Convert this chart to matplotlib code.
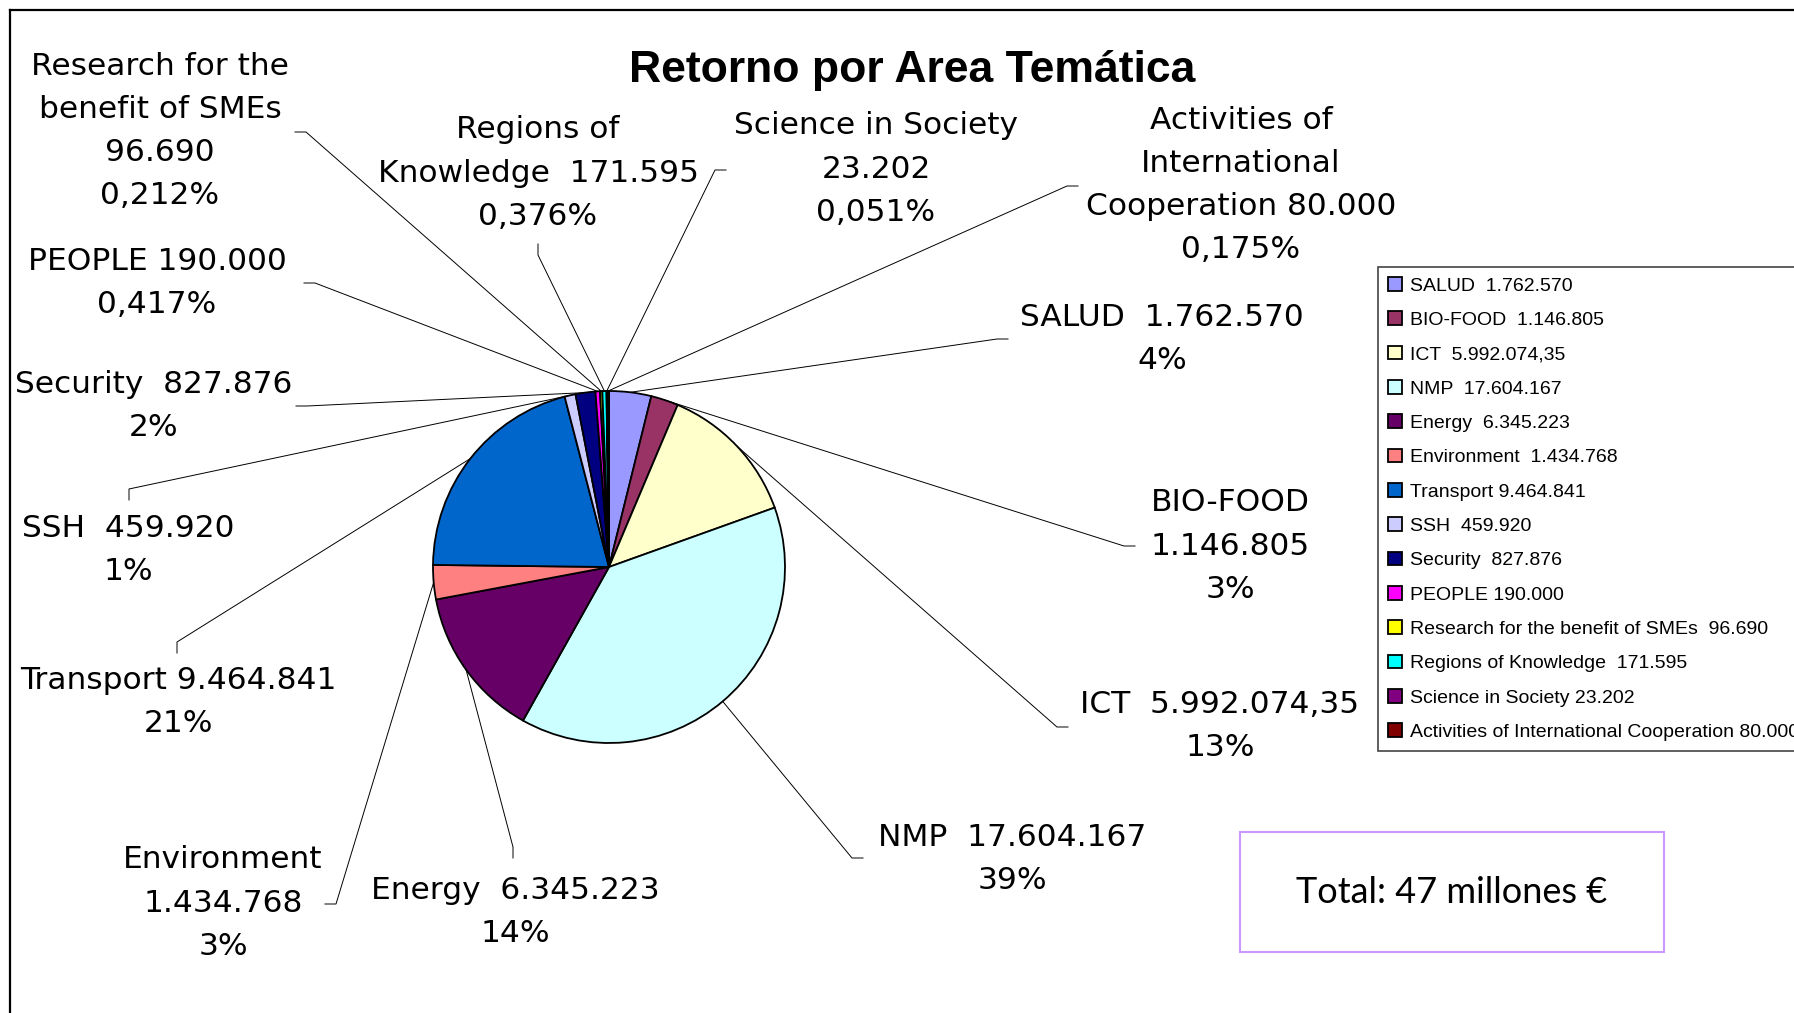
import matplotlib
matplotlib.use('Agg')
import matplotlib.pyplot as plt
from matplotlib.patches import Rectangle
import numpy as np

# values
names = ['SALUD', 'BIO-FOOD', 'ICT', 'NMP', 'Energy', 'Environment', 'Transport',
         'SSH', 'Security', 'PEOPLE', 'Research for the benefit of SMEs',
         'Regions of Knowledge', 'Science in Society',
         'Activities of International Cooperation']
amounts = [1762570, 1146805, 5992074.35, 17604167, 6345223, 1434768, 9464841,
           459920, 827876, 190000, 96690, 171595, 23202, 80000]
colors = ['#9999FF', '#993366', '#FFFFCC', '#CCFFFF', '#660066', '#FF8080', '#0066CC',
          '#CCCCFF', '#000080', '#FF00FF', '#FFFF00', '#00FFFF', '#800080', '#800000']
title = 'Retorno por Area Temática'
total_text = 'Total: 47 millones €'

# how each name is written next to the pie (line breaks, gap before the amount)
label_names = ['SALUD', 'BIO-FOOD', 'ICT', 'NMP', 'Energy', 'Environment', 'Transport',
               'SSH', 'Security', 'PEOPLE', 'Research for the\nbenefit of SMEs',
               'Regions of\nKnowledge', 'Science in Society',
               'Activities of\nInternational\nCooperation']
label_seps = ['  ', '\n', '  ', '  ', '  ', '\n', ' ', '  ', '  ', ' ', '\n', '  ', '\n', ' ']
legend_seps = ['  ', '  ', '  ', '  ', '  ', '  ', ' ', '  ', '  ', ' ', '  ', '  ', ' ', ' ']

# layout in pixels, measured from the top-left corner
W, H = 1794, 1013
label_pos = [(1162, 339), (1230, 546), (1220, 726), (1012, 859), (515, 912), (223, 903),
             (178, 702), (128, 550), (154, 406), (157, 283), (160, 131), (538, 173),
             (876, 169), (1241, 185)]
elbows = [(997, 339), (1124, 546), (1057, 727), (852, 858), (513, 847), (336, 904),
          (177, 642), (129, 489), (307, 406), (315, 283), (306, 132), (538, 255),
          (715, 170), (1067, 186)]
tick_dirs = ['r', 'r', 'r', 'r', 'd', 'l', 'd', 'd', 'l', 'l', 'l', 'u', 'r', 'r']


def fmt_amount(v):
    whole = int(v)
    s = f'{whole:,}'.replace(',', '.')
    cents = round((v - whole) * 100)
    if cents:
        s += f',{cents:02d}'
    return s


def fmt_pct(p):
    if p >= 1:
        return f'{round(p)}%'
    return f'{p:.3f}%'.replace('.', ',')


total = sum(amounts)
pcts = [100 * a / total for a in amounts]

fig = plt.figure(figsize=(W / 100, H / 100), dpi=100)
ax = fig.add_axes([0, 0, 1, 1])

cx, cy, r = 609, H - 567, 176
wedges, _ = ax.pie(amounts, colors=colors, startangle=90, counterclock=False,
                   center=(cx, cy), radius=r,
                   wedgeprops=dict(edgecolor='black', linewidth=1.3))
ax.set_xlim(0, W)
ax.set_ylim(0, H)
ax.set_aspect('auto')
ax.axis('off')

# leader lines: from the middle of each slice to a short tick beside its label
tick = 11
steps = {'l': (-tick, 0), 'r': (tick, 0), 'u': (0, tick), 'd': (0, -tick)}
for w, (ex, ey), d in zip(wedges, elbows, tick_dirs):
    ang = np.deg2rad((w.theta1 + w.theta2) / 2)
    x0 = cx + r * np.cos(ang)
    y0 = cy + r * np.sin(ang)
    dx, dy = steps[d]
    ax.plot([x0, ex, ex + dx], [y0, H - ey, H - ey + dy], color='black', lw=0.7, zorder=0.5)

for i in range(len(names)):
    txt = label_names[i] + label_seps[i] + fmt_amount(amounts[i]) + '\n' + fmt_pct(pcts[i])
    x, y = label_pos[i]
    ax.text(x, H - y, txt, ha='center', va='center', multialignment='center',
            fontsize=22.5, family='DejaVu Sans', linespacing=1.62)

ax.text(912, H - 70, title, ha='center', va='center', fontsize=32,
        fontweight='bold', family='Liberation Sans')

legend_labels = [n + s + fmt_amount(a) for n, s, a in zip(names, legend_seps, amounts)]
leg = ax.legend(wedges, legend_labels, loc='upper left',
                bbox_to_anchor=(1378 / W, 1 - 267 / H), bbox_transform=fig.transFigure,
                prop={'family': 'Liberation Sans', 'size': 14}, frameon=True,
                fancybox=False, framealpha=1, edgecolor='#444444', borderaxespad=0,
                borderpad=0.52, labelspacing=0.86, handlelength=0.7, handleheight=0.7,
                handletextpad=0.45)
leg.get_frame().set_linewidth(1.2)

# total box
ax.add_patch(Rectangle((1240, H - 952), 424, 120, fill=False, edgecolor='#CC99FF', lw=1.5))
ax.text(1452, H - 892, total_text, ha='center', va='center', fontsize=26, family='Lato')

# outer frame (only left and top edges are visible)
ax.plot([10, 10], [H - 10, -10], color='black', lw=1.6, clip_on=False)
ax.plot([10, W + 10], [H - 10, H - 10], color='black', lw=1.6, clip_on=False)

fig.savefig('out.png', dpi=100)
